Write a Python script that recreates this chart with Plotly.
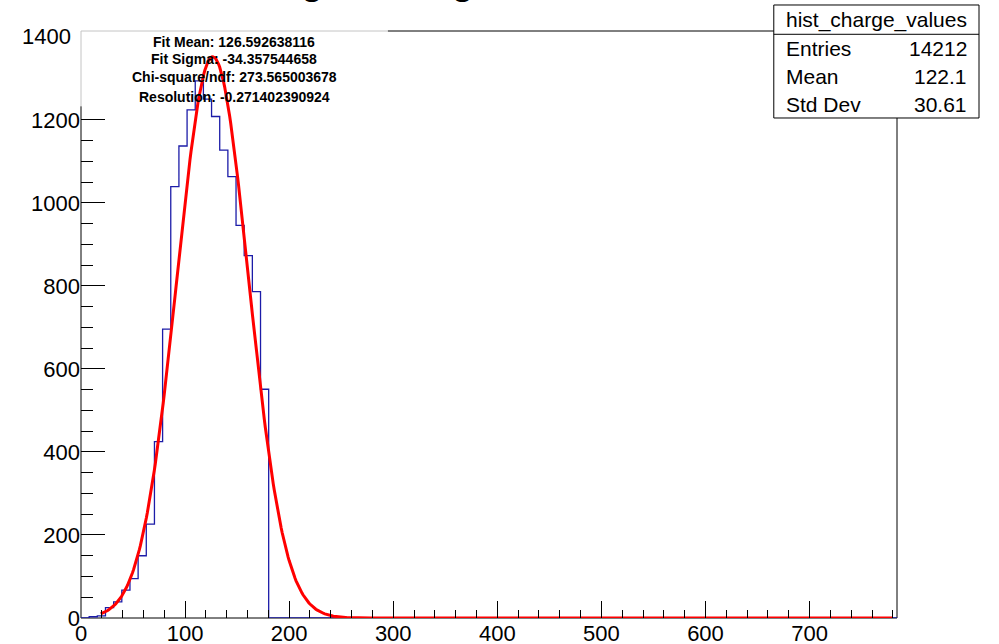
import numpy as np
import plotly.graph_objects as go

# Histogram binning: 100 bins over the charge axis
x_min, x_max, n_bins = 0.0, 784.0, 100
# Bin contents of hist_charge_values (bins 0..22 are filled, the rest are empty)
counts = [0, 3, 5, 25, 39, 67, 95, 150, 226, 425, 696, 1039, 1137, 1224, 1294,
          1250, 1208, 1127, 1063, 946, 873, 786, 551] + [0] * 77

# Gaussian fit results
fit_mean = 126.592638116
fit_sigma = -34.357544658
fit_chi2ndf = 273.565003678
fit_resolution = -0.271402390924
fit_amplitude = 1352.0
fit_range = (19.0, 780.0)

# Statistics box
stats_name = "hist_charge_values"
stats_rows = [("Entries", "14212"), ("Mean", "122.1"), ("Std Dev", "30.61")]

title_text = "Charge Histogram"

y_max = 1414.0
y_major = [0, 200, 400, 600, 800, 1000, 1200]
y_minor = [v for v in range(50, 1200, 50) if v % 200 != 0]

FONT = "Liberation Sans, Arial, Helvetica, sans-serif"

edges = np.linspace(x_min, x_max, n_bins + 1)
hist_y = list(counts) + [counts[-1]]

xf = np.linspace(fit_range[0], fit_range[1], 800)
yf = fit_amplitude * np.exp(-0.5 * ((xf - fit_mean) / fit_sigma) ** 2)

fig = go.Figure()
fig.add_trace(go.Scatter(x=edges, y=hist_y, mode="lines", line_shape="hv",
                         line=dict(color="#1c1ca8", width=1.3),
                         hoverinfo="skip", showlegend=False))
fig.add_trace(go.Scatter(x=xf, y=yf, mode="lines",
                         line=dict(color="#ff0000", width=3),
                         hoverinfo="skip", showlegend=False))

# Plot frame, fit-text pave and statistics pave
box_x1 = 0.376
box_y0 = 0.872
shapes = [
    dict(type="rect", xref="paper", yref="paper", x0=0, y0=0, x1=1, y1=1,
         line=dict(color="black", width=1), layer="below"),
    dict(type="rect", xref="paper", yref="paper", x0=-0.004, y0=box_y0, x1=box_x1, y1=1.004,
         fillcolor="white", line=dict(width=0), layer="below"),
    dict(type="path", xref="paper", yref="paper",
         path=f"M 0,{box_y0} L 0,1 L {box_x1},1",
         line=dict(color="#c4c4c4", width=1), layer="below"),
]
sx0, sx1 = 0.849, 1.1005
sy_top, sy_sep, sy_bot = 1.0443, 0.9944, 0.8518
shapes.append(dict(type="rect", xref="paper", yref="paper", x0=sx0, x1=sx1, y0=sy_bot, y1=sy_top,
                   fillcolor="white", line=dict(color="black", width=1), layer="above"))
shapes.append(dict(type="line", xref="paper", yref="paper", x0=sx0, x1=sx1, y0=sy_sep, y1=sy_sep,
                   line=dict(color="black", width=1), layer="above"))

annotations = []
fit_lines = [
    f"Fit Mean: {fit_mean:.9f}",
    f"Fit Sigma: {fit_sigma:.9f}",
    f"Chi-square/ndf: {fit_chi2ndf:.9f}",
    f"Resolution: {fit_resolution:.12f}",
]
fit_line_y = [0.981, 0.952, 0.921, 0.887]
for txt, yy in zip(fit_lines, fit_line_y):
    annotations.append(dict(xref="paper", yref="paper", x=0.188, y=yy, text=f"<b>{txt}</b>",
                            showarrow=False, xanchor="center", yanchor="middle",
                            font=dict(family=FONT, size=14, color="black")))

annotations.append(dict(xref="paper", yref="paper", x=(sx0 + sx1) / 2, y=(sy_top + sy_sep) / 2,
                        text=stats_name, showarrow=False, xanchor="center", yanchor="middle",
                        font=dict(family=FONT, size=21, color="black")))
row_h = (sy_sep - sy_bot) / len(stats_rows)
for i, (lab, val) in enumerate(stats_rows):
    yy = sy_sep - row_h * (i + 0.5)
    annotations.append(dict(xref="paper", yref="paper", x=sx0 + 0.012, y=yy, text=lab,
                            showarrow=False, xanchor="left", yanchor="middle",
                            font=dict(family=FONT, size=21, color="black")))
    annotations.append(dict(xref="paper", yref="paper", x=sx1 - 0.012, y=yy, text=val,
                            showarrow=False, xanchor="right", yanchor="middle",
                            font=dict(family=FONT, size=21, color="black")))

# Top y label sits inside the pave region, so it is placed without a tick mark
annotations.append(dict(xref="paper", yref="y", x=0, y=1400, text="1400", showarrow=False,
                        xanchor="right", yanchor="middle", xshift=-8,
                        font=dict(family=FONT, size=22, color="black")))

# Histogram title, mostly above the top edge of the canvas
annotations.append(dict(xref="paper", yref="paper", x=0.365, y=1.0862, text=title_text,
                        showarrow=False, xanchor="center", yanchor="middle",
                        font=dict(family=FONT, size=41, color="black")))

fig.update_layout(
    width=999, height=644,
    margin=dict(l=81, r=102, t=31, b=26, autoexpand=False),
    paper_bgcolor="white", plot_bgcolor="white",
    font=dict(family=FONT, size=22, color="black"),
    shapes=shapes, annotations=annotations,
    showlegend=False,
)
fig.update_xaxes(range=[x_min, x_max], showgrid=False, zeroline=False, showline=False,
                 automargin=False,
                 tickmode="linear", tick0=0, dtick=100, ticks="inside", ticklen=17,
                 tickwidth=1, tickcolor="black",
                 minor=dict(ticks="inside", dtick=20, tick0=0, ticklen=8, tickwidth=1, tickcolor="black"),
                 tickfont=dict(family=FONT, size=22, color="black"))
fig.update_yaxes(range=[0, y_max], showgrid=False, zeroline=False, showline=False,
                 automargin=False,
                 tickmode="array", tickvals=y_major, ticks="inside", ticklen=24,
                 tickwidth=1, tickcolor="black",
                 minor=dict(ticks="inside", tickmode="array", tickvals=y_minor, ticklen=12,
                            tickwidth=1, tickcolor="black"),
                 tickfont=dict(family=FONT, size=22, color="black"))

fig.write_html("out.html")
